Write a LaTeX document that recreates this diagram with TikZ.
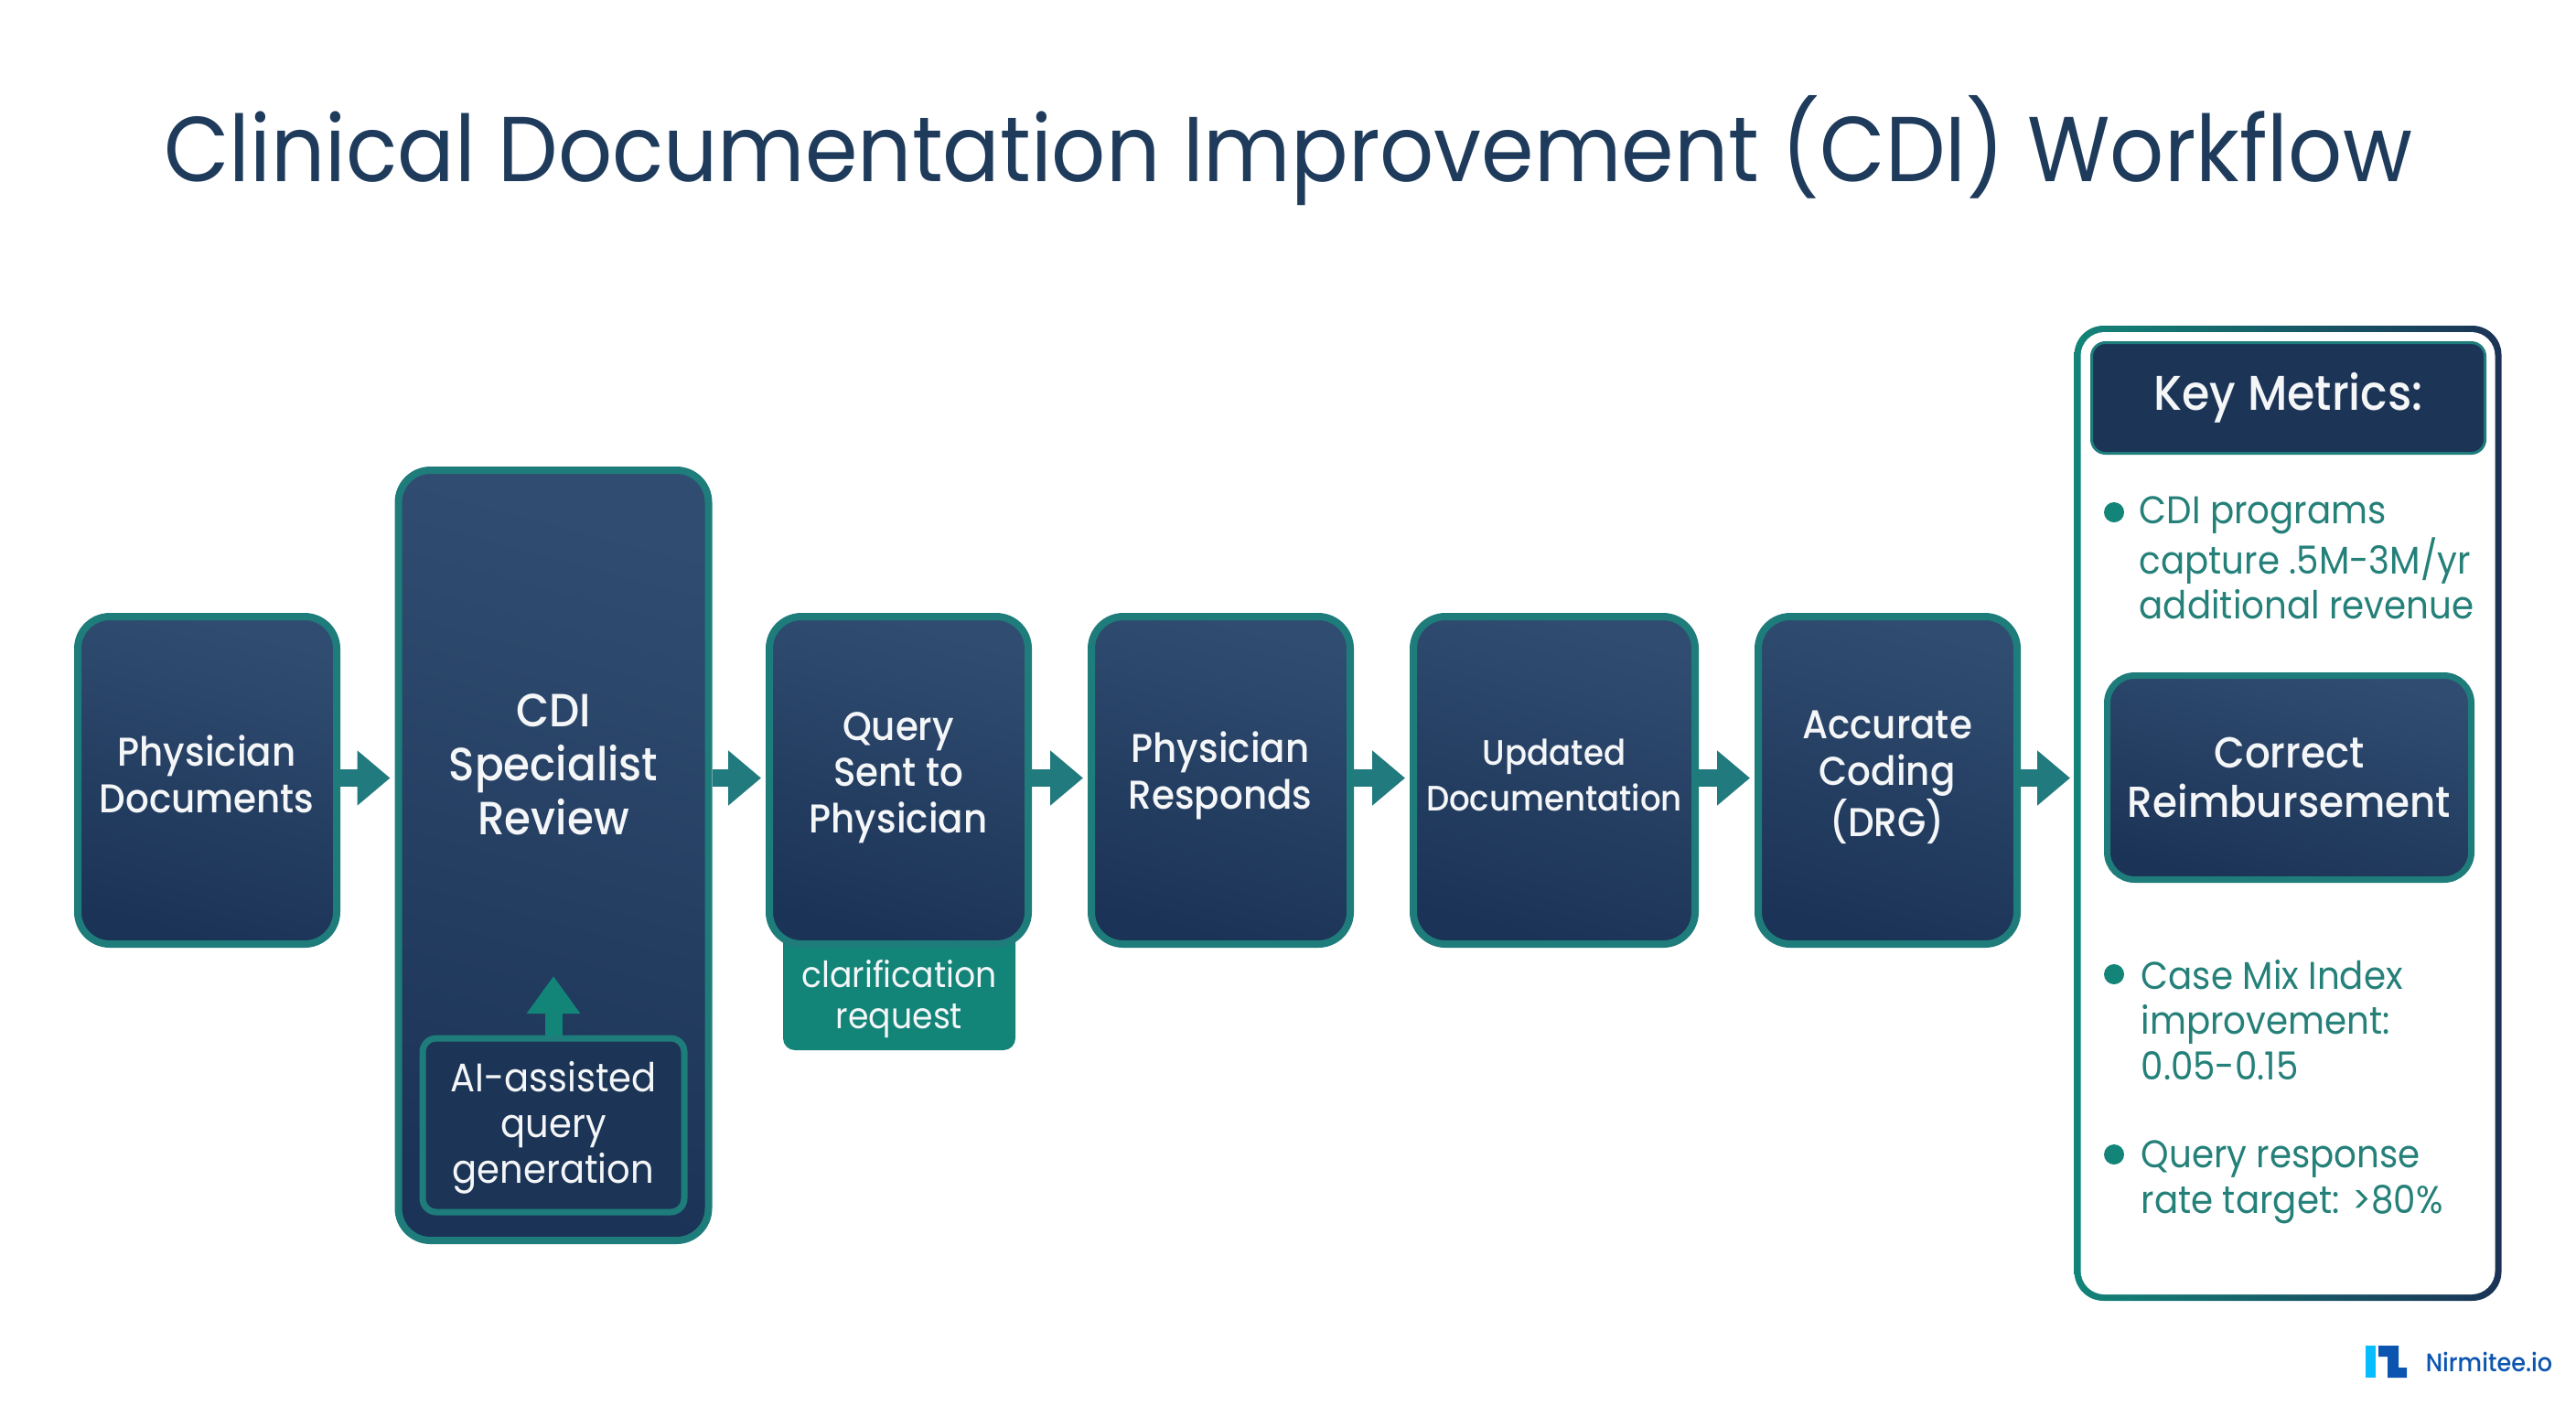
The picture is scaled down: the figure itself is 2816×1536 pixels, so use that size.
\documentclass[tikz,border=0pt]{standalone}
\usepackage{fontspec}
\setmainfont[FakeStretch=0.92]{Poppins}
\newfontfamily\medfont[FakeStretch=0.92]{Poppins Medium}
\usetikzlibrary{arrows.meta}
\definecolor{navytop}{HTML}{304D71}
\definecolor{navymid}{HTML}{223F63}
\definecolor{navylow}{HTML}{1B3356}
\definecolor{navyflat}{HTML}{1C3557}
\definecolor{tealline}{HTML}{1E7C7B}
\definecolor{tealarrow}{HTML}{217A7E}
\definecolor{tealfill}{HTML}{128478}
\definecolor{tealtext}{HTML}{248079}
\definecolor{titlecol}{HTML}{1F3B5C}
\definecolor{paperwhite}{HTML}{F4F6F8}
\definecolor{logolight}{HTML}{08BDFE}
\definecolor{logodark}{HTML}{0B55B0}
\begin{document}
\begin{tikzpicture}[x=0.1mm,y=-0.1mm,
  flowbox/.style={draw=tealline,line width=0.8mm,rounded corners=3.5mm,top color=navytop,middle color=navymid,bottom color=navylow,shading angle=-15,inner sep=0pt},
  boxtext/.style={text=paperwhite,align=center,inner sep=0pt,font=\medfont\fontsize{12.5}{14.4}\selectfont},
  flowarrow/.style={draw=tealarrow,line width=1.9mm,shorten >=0.5mm,transform canvas={yshift=0.25mm},-{Triangle[length=3.6mm,width=5.8mm]}},
  metrictext/.style={text=tealtext,align=left,anchor=west,inner sep=0pt,font=\fontsize{12}{14.2}\selectfont},
  metricdot/.style={circle,fill=tealfill,inner sep=0pt,minimum size=2.2mm}]
\useasboundingbox (0,0) rectangle (2816,1536);
\node (title) [text=titlecol,inner sep=0pt,font=\fontsize{28.65}{34}\selectfont] at (1408,165) {Clinical Documentation Improvement (CDI) Workflow};
\node (claritab) [fill=tealfill,rounded corners=1.3mm,minimum width=25.4mm,minimum height=13.8mm,inner sep=0pt] at (983,1079) {};
\node (claritext) [text=paperwhite,align=center,inner sep=0pt,font=\fontsize{11.2}{12.8}\selectfont] at (983,1092) {clarification\\request};
\node (docs) [flowbox,minimum width=28.3mm,minimum height=35.8mm] at (226.5,853) {};
\node (cdi) [flowbox,minimum width=33.9mm,minimum height=84.2mm] at (605,935) {};
\node (query) [flowbox,minimum width=28.3mm,minimum height=35.8mm] at (982.5,853) {};
\node (responds) [flowbox,minimum width=28.3mm,minimum height=35.8mm] at (1334.5,853) {};
\node (updated) [flowbox,minimum width=30.8mm,minimum height=35.8mm] at (1699,853) {};
\node (coding) [flowbox,minimum width=28.3mm,minimum height=35.8mm] at (2063.5,853) {};
\node (docstext) [boxtext] at (226,846) {Physician\\Documents};
\node (cditext) [boxtext,font=\medfont\fontsize{14.5}{16.8}\selectfont] at (605,836) {CDI\\Specialist\\Review};
\node (querytext) [boxtext] at (982,850) {Query\\Sent to\\Physician};
\node (respondstext) [boxtext] at (1334,848) {Physician\\Responds};
\node (updatedtext) [boxtext,font=\medfont\fontsize{11}{14.2}\selectfont] at (1699,847) {Updated\\Documentation};
\node (codingtext) [boxtext] at (2063,850) {Accurate\\Coding\\(DRG)};
\node (aibox) [draw=tealline,line width=0.7mm,rounded corners=1.5mm,fill=navyflat,minimum width=28.6mm,minimum height=19mm,inner sep=0pt] at (605,1230) {};
\coordinate (aitip) at (605,1067);
\node (aitext) [text=paperwhite,align=center,inner sep=0pt,font=\fontsize{12.4}{14.2}\selectfont] at (605,1233) {AI-assisted\\query\\generation};
\draw [draw=tealfill,line width=1.9mm,-{Triangle[length=4.1mm,width=5.6mm]}] (aibox.north) -- (aitip);
\draw [flowarrow] (docs.east) -- (docs.east -| cdi.west);
\draw [flowarrow] (query.west -| cdi.east) -- (query.west);
\draw [flowarrow] (query.east) -- (responds.west);
\draw [flowarrow] (responds.east) -- (updated.west);
\draw [flowarrow] (updated.east) -- (coding.west);
\coordinate (paneldoor) at (2268,853);
\draw [flowarrow] (coding.east) -- (paneldoor);
\node (panel) [rounded corners=3.2mm,left color=tealfill,middle color=tealline,right color=navylow,minimum width=46.7mm,minimum height=106.6mm,inner sep=0pt] at (2501,889) {};
\node (panelin) [rounded corners=2.6mm,fill=white,minimum width=45.3mm,minimum height=105.2mm,inner sep=0pt] at (2501,889) {};
\node (keyhead) [draw=tealline,line width=0.3mm,rounded corners=1.5mm,fill=navyflat,minimum width=43mm,minimum height=12.1mm,text=paperwhite,inner sep=0pt,font=\medfont\fontsize{15.2}{17}\selectfont] at (2501.5,435) {Key Metrics:};
\node (correct) [flowbox,line width=0.7mm,rounded corners=3mm,minimum width=39.8mm,minimum height=22.3mm,text=paperwhite,align=center,font=\medfont\fontsize{13.5}{15.6}\selectfont] at (2502.5,850) {Correct\\Reimbursement};
\node (dota) [metricdot] at (2311,560) {};
\node (metrica) [metrictext] at (2338,610) {CDI programs\\capture .5M-3M/yr\\additional revenue};
\node (dotb) [metricdot] at (2311,1065) {};
\node (metricb) [metrictext] at (2340,1115) {Case Mix Index\\improvement:\\0.05-0.15};
\node (dotc) [metricdot] at (2311,1262) {};
\node (metricc) [metrictext] at (2340,1292) {Query response\\rate target: >80\%};
\fill [logolight] (2586,1471) rectangle (2597,1506);
\fill [logodark] (2600,1471) -- (2622,1471) -- (2622,1495) -- (2631,1495) -- (2631,1506) -- (2610,1506) -- (2610,1483) -- (2600,1483) -- cycle;
\node (brand) [text=logodark,inner sep=0pt,anchor=west,font=\medfont\fontsize{7.9}{10}\selectfont] at (2651,1489) {Nirmitee.io};
\end{tikzpicture}
\end{document}
